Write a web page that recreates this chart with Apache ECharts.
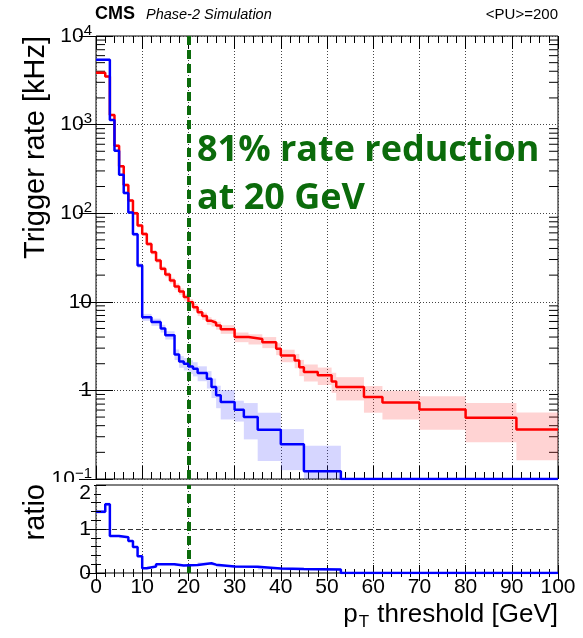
<!DOCTYPE html>
<html>
<head>
<meta charset="utf-8">
<script src="https://cdn.jsdelivr.net/npm/echarts@6/dist/echarts.min.js"></script>
<style>
  html, body { margin: 0; padding: 0; background: #fff; }
  #chart { width: 583px; height: 638px; }
</style>
</head>
<body>
<div id="chart"></div>
<script>
// Trigger rate versus pT threshold, reference selection (red) and new selection (blue),
// with the blue/red ratio in a lower panel.

// Red histogram: bin edges [GeV], rate [kHz] and its uncertainty
const redEdges = [0, 2, 3, 4, 5, 6, 7, 8, 9, 10, 11, 12, 13, 14, 15, 16, 17, 18, 19, 20,
  21, 22, 23, 24, 25, 26, 27, 30, 33, 36, 39, 40, 43, 44, 45, 48, 51, 52, 58, 62, 70, 80, 91, 100];
const redRate = [3850, 3490, 1280, 578, 338, 208, 139, 100, 72.5, 58.4, 45, 36.3, 29.2, 23.6, 20.3,
  17.4, 14.9, 13.1, 11.3, 9.9, 8.7, 7.6, 6.9, 6.1, 5.8, 5.4, 4.9, 4.0, 3.8, 3.5, 2.95, 2.48, 2.18,
  1.83, 1.61, 1.48, 1.26, 1.09, 0.84, 0.73, 0.61, 0.49, 0.363];
const redErr = [100, 95, 40, 20, 12, 8, 6, 4.5, 3.5, 3, 2.5, 2.1, 1.8, 1.5, 1.4, 1.3, 1.2, 1.1, 1.0,
  0.8, 0.75, 0.7, 0.65, 0.6, 0.55, 0.55, 0.55, 0.5, 0.5, 0.5, 0.45, 0.4, 0.4, 0.38, 0.35, 0.33,
  0.32, 0.32, 0.28, 0.26, 0.25, 0.23, 0.2];

// Blue histogram
const blueEdges = [0, 3, 4, 5, 6, 7, 8, 9, 10, 12, 14, 15, 17, 18, 19, 20, 21, 22, 24, 25, 26, 27,
  30, 32, 35, 40, 45, 53, 100];
const blueRate = [5400, 1130, 508, 272, 169, 102, 58, 25.7, 6.7, 5.9, 5.0, 4.2, 2.55, 2.12, 2.0,
  1.86, 1.76, 1.57, 1.35, 1.09, 0.88, 0.74, 0.605, 0.50, 0.36, 0.246, 0.122, 0];
const blueErr = [150, 30, 14, 8, 6, 4, 3, 1.6, 0.6, 0.55, 0.5, 0.45, 0.35, 0.32, 0.32, 0.33, 0.32,
  0.3, 0.3, 0.27, 0.25, 0.27, 0.16, 0.22, 0.2, 0.12, 0.115, 0];

// Ratio blue / red
const ratioEdges = [0, 2, 3, 5, 7, 8, 9, 10, 11, 13, 17, 19, 22, 25, 26, 30, 35, 40, 45, 53, 100];
const ratioValue = [1.39, 1.56, 0.84, 0.81, 0.73, 0.59, 0.38, 0.11, 0.15, 0.20, 0.17, 0.18, 0.22,
  0.19, 0.15, 0.14, 0.10, 0.09, 0.08, 0];
const ratioErr = [0.04, 0.04, 0.02, 0.02, 0.02, 0.02, 0.02, 0.01, 0.01, 0.015, 0.015, 0.02, 0.02,
  0.02, 0.02, 0.02, 0.025, 0.03, 0.03, 0];

// Axis ticks and labels
const rateTickLabels = ['10{sup|\u22121}', '1', '10', '10{sup|2}', '10{sup|3}', '10{sup|4}'];
const ratioTickLabels = ['0', '1', '2'];
const cutThreshold = 20;
const noteLines = ['81% rate reduction', 'at ' + cutThreshold + ' GeV'];

const RATE_MIN = 0.1, RATE_MAX = 1e4;
const FONT = '"Liberation Sans", Arial, Helvetica, sans-serif';
const RED = '#ff0000', BLUE = '#0000ff', GREEN = '#0b6b0b';

const clampRate = v => Math.max(v, RATE_MIN);
const same = v => v;

function stepPoints(edges, vals, clamp) {
  const pts = vals.map((v, i) => [edges[i], clamp(v)]);
  pts.push([edges[edges.length - 1], clamp(vals[vals.length - 1])]);
  return pts;
}
function bandBoxes(edges, vals, errs, floor) {
  const out = [];
  vals.forEach((v, i) => {
    if (errs[i] > 0) out.push([edges[i], edges[i + 1], Math.max(v - errs[i], floor), v + errs[i]]);
  });
  return out;
}
function bandRenderer(fill) {
  return function (params, api) {
    const a = api.coord([api.value(0), api.value(3)]);
    const b = api.coord([api.value(1), api.value(2)]);
    const cs = params.coordSys;
    const r = echarts.graphic.clipRectByRect(
      { x: a[0], y: a[1], width: b[0] - a[0], height: b[1] - a[1] },
      { x: cs.x, y: cs.y, width: cs.width, height: cs.height });
    return r && { type: 'rect', shape: r, style: { fill: fill } };
  };
}

// minor ticks of the logarithmic rate axis (2..9 x 10^k), drawn on both sides
const rateMinorTicks = [];
for (let k = -1; k < 4; k++) for (let m = 2; m <= 9; m++) rateMinorTicks.push([0, m * Math.pow(10, k)]);

function minorTickRenderer(params, api) {
  const v = api.value(1);
  const l = api.coord([0, v]);
  const r = api.coord([100, v]);
  const st = { stroke: '#000', lineWidth: 1 };
  return {
    type: 'group', children: [
      { type: 'line', shape: { x1: l[0], y1: l[1], x2: l[0] + 9, y2: l[1] }, style: st },
      { type: 'line', shape: { x1: r[0] - 9, y1: r[1], x2: r[0], y2: r[1] }, style: st }
    ]
  };
}

const L = 96, W = 462;
const topGrid = { left: L, top: 36, width: W, height: 443 };
const lowGrid = { left: L, top: 485, width: W, height: 88 };

function xAxisDef(grid, pos, labels, major, minor, split) {
  return {
    type: 'value', gridIndex: grid, position: pos, min: 0, max: 100, interval: 10,
    axisLine: { show: false },
    axisTick: { show: true, inside: true, length: major, lineStyle: { color: '#000', width: 1 } },
    minorTick: { show: true, splitNumber: 5, length: minor, lineStyle: { color: '#000', width: 1 } },
    axisLabel: { show: labels, color: '#000', fontFamily: FONT, fontSize: 21, margin: 4 },
    splitLine: { show: split, lineStyle: { color: '#444', width: 1, type: [1, 2] } },
    minorSplitLine: { show: false }
  };
}

const lineStyleBase = { width: 2.5 };

const option = {
  animation: false,
  backgroundColor: '#fff',
  textStyle: { fontFamily: FONT },
  grid: [
    Object.assign({ show: true, borderColor: '#000', borderWidth: 1, containLabel: false, outerBoundsMode: 'none' }, topGrid),
    Object.assign({ show: true, borderColor: '#000', borderWidth: 1, containLabel: false, outerBoundsMode: 'none' }, lowGrid)
  ],
  xAxis: [
    xAxisDef(0, 'bottom', false, 13, 7, true),
    xAxisDef(0, 'top', false, 13, 7, false),
    xAxisDef(1, 'bottom', true, 8, 4, true),
    xAxisDef(1, 'top', false, 8, 4, false)
  ],
  yAxis: [
    {
      type: 'log', logBase: 10, gridIndex: 0, position: 'left', min: RATE_MIN, max: RATE_MAX, z: 0,
      axisLine: { show: false },
      axisTick: { show: true, inside: true, length: 17, lineStyle: { color: '#000' } },
      axisLabel: {
        color: '#000', fontFamily: FONT, fontSize: 21, margin: 4, lineHeight: 26,
        formatter: v => rateTickLabels[Math.round(Math.log10(v)) + 1],
        rich: { sup: { fontSize: 15, lineHeight: 15, verticalAlign: 'top', color: '#000', fontFamily: FONT } }
      },
      splitLine: { show: true, lineStyle: { color: '#444', width: 1, type: [1, 2] } }
    },
    {
      type: 'log', logBase: 10, gridIndex: 0, position: 'right', min: RATE_MIN, max: RATE_MAX,
      axisLine: { show: false },
      axisTick: { show: true, inside: true, length: 17, lineStyle: { color: '#000' } },
      axisLabel: { show: false }, splitLine: { show: false }
    },
    {
      type: 'value', gridIndex: 1, position: 'left', min: 0, max: 2, interval: 1, z: 10,
      axisLine: { show: false },
      axisTick: { show: true, inside: true, length: 10, lineStyle: { color: '#000' } },
      minorTick: { show: true, splitNumber: 5, length: 5, lineStyle: { color: '#000' } },
      axisLabel: {
        color: '#000', fontFamily: FONT, fontSize: 21, margin: 5,
        formatter: v => {
          const t = ratioTickLabels[Math.round(v)];
          return Math.round(v) === 2 ? '{low|' + t + '}' : t;
        },
        rich: { low: { padding: [16, 0, 0, 0], fontSize: 21, color: '#000', fontFamily: FONT } }
      },
      splitLine: { show: false }
    },
    {
      type: 'value', gridIndex: 1, position: 'right', min: 0, max: 2, interval: 1,
      axisLine: { show: false },
      axisTick: { show: true, inside: true, length: 10, lineStyle: { color: '#000' } },
      minorTick: { show: true, splitNumber: 5, length: 5, lineStyle: { color: '#000' } },
      axisLabel: { show: false }, splitLine: { show: false }
    }
  ],
  series: [
    {
      type: 'custom', name: 'red band', xAxisIndex: 0, yAxisIndex: 0, silent: true, z: 2,
      renderItem: bandRenderer('rgba(255, 70, 70, 0.24)'),
      encode: { x: [0, 1], y: [2, 3] },
      data: bandBoxes(redEdges, redRate, redErr, RATE_MIN)
    },
    {
      type: 'custom', name: 'blue band', xAxisIndex: 0, yAxisIndex: 0, silent: true, z: 2,
      renderItem: bandRenderer('rgba(70, 70, 255, 0.22)'),
      encode: { x: [0, 1], y: [2, 3] },
      data: bandBoxes(blueEdges, blueRate, blueErr, RATE_MIN)
    },
    {
      type: 'custom', name: 'ratio band', xAxisIndex: 2, yAxisIndex: 2, silent: true, z: 2,
      renderItem: bandRenderer('rgba(70, 70, 255, 0.22)'),
      encode: { x: [0, 1], y: [2, 3] },
      data: bandBoxes(ratioEdges, ratioValue, ratioErr, 0)
    },
    {
      type: 'custom', name: 'minor ticks', xAxisIndex: 0, yAxisIndex: 0, silent: true, z: 1,
      renderItem: minorTickRenderer, encode: { x: 0, y: 1 }, data: rateMinorTicks
    },
    {
      type: 'line', name: 'red', xAxisIndex: 0, yAxisIndex: 0, step: 'end', symbol: 'none', z: 4,
      lineStyle: Object.assign({ color: RED }, lineStyleBase),
      data: stepPoints(redEdges, redRate, clampRate)
    },
    {
      type: 'line', name: 'blue', xAxisIndex: 0, yAxisIndex: 0, step: 'end', symbol: 'none', z: 5,
      lineStyle: Object.assign({ color: BLUE }, lineStyleBase),
      data: stepPoints(blueEdges, blueRate, clampRate),
      markLine: {
        silent: true, symbol: 'none', label: { show: false },
        lineStyle: { color: GREEN, width: 4, type: [9, 5] },
        data: [{ xAxis: cutThreshold }]
      }
    },
    {
      type: 'line', name: 'ratio', xAxisIndex: 2, yAxisIndex: 2, step: 'end', symbol: 'none', z: 5,
      lineStyle: Object.assign({ color: BLUE }, lineStyleBase),
      data: stepPoints(ratioEdges, ratioValue, same),
      markLine: {
        silent: true, symbol: 'none', label: { show: false },
        data: [
          { yAxis: 1, lineStyle: { color: '#333', width: 1, type: [5, 3] } },
          { xAxis: cutThreshold, lineStyle: { color: GREEN, width: 4, type: [9, 5] } }
        ]
      }
    }
  ],
  graphic: [
    // lower pad covers the bottom of the upper pad's last tick label
    { type: 'rect', z: 5, shape: { x: 53, y: 482, width: 41, height: 14 }, style: { fill: '#fff' } },
    { type: 'text', x: 95, y: 14, style: { text: 'CMS', font: 'bold 18px ' + FONT, fill: '#000', verticalAlign: 'middle' } },
    { type: 'text', x: 146, y: 15, style: { text: 'Phase-2 Simulation', font: 'italic 14.5px ' + FONT, fill: '#000', verticalAlign: 'middle' } },
    { type: 'text', x: 558, y: 15, style: { text: '<PU>=200', font: '15px ' + FONT, fill: '#000', align: 'right', verticalAlign: 'middle' } },
    { type: 'text', x: 36, y: 36, rotation: Math.PI / 2,
      style: { text: 'Trigger rate [kHz]', font: '29px ' + FONT, fill: '#000', align: 'right', verticalAlign: 'middle' } },
    { type: 'text', x: 36, y: 484, rotation: Math.PI / 2,
      style: { text: 'ratio', font: '29px ' + FONT, fill: '#000', align: 'right', verticalAlign: 'middle' } },
    { type: 'text', x: 558, y: 615,
      style: {
        text: 'p{sub|T} threshold [GeV]', font: '26px ' + FONT, fill: '#000', align: 'right', verticalAlign: 'middle',
        rich: { sub: { font: '17px ' + FONT, fill: '#000', padding: [14, 1, 0, 1] } }
      } },
    { type: 'text', x: 197, y: 151, z: 20,
      style: { text: noteLines[0], font: 'bold 36px "Open Sans", "Noto Sans", sans-serif', fill: GREEN, verticalAlign: 'middle' } },
    { type: 'text', x: 197, y: 199, z: 20,
      style: { text: noteLines[1], font: 'bold 36px "Open Sans", "Noto Sans", sans-serif', fill: GREEN, verticalAlign: 'middle' } }
  ]
};

const chart = echarts.init(document.getElementById('chart'), null, { renderer: 'canvas' });
chart.setOption(option);
</script>
</body>
</html>
